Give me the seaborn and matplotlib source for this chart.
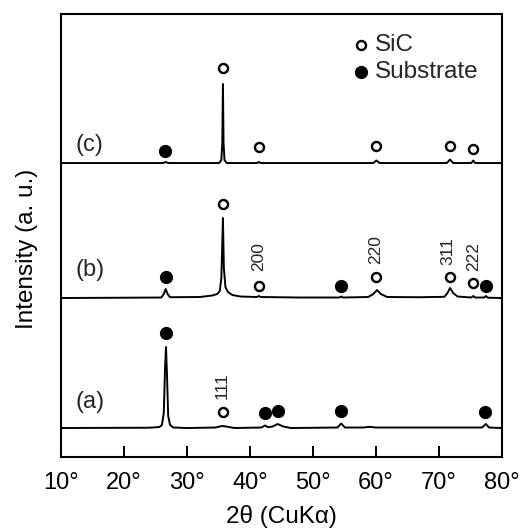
import numpy as np
import pandas as pd
import matplotlib
matplotlib.use("Agg")
import matplotlib.pyplot as plt
import seaborn as sns

# XRD traces: 2theta (deg) and height above each trace's baseline
# (vertical units = screen pixels of the original figure)
two_theta_c = [10, 26.2, 26.6, 27.0, 35.1, 35.45, 35.6, 35.7, 35.8, 35.95, 36.3,
               41.1, 41.4, 41.7, 59.6, 60.1, 60.6, 71.3, 71.8, 72.3, 75.2, 75.5, 75.8, 80]
height_c = [0, 0, 1, 0, 0, 3, 20, 79, 20, 3, 0,
            0, 1, 0, 0, 2.5, 0, 0, 3.5, 0, 0, 2.5, 0, 0]

two_theta_b = [10, 20, 25.9, 26.3, 26.6, 26.9, 27.3, 32, 34.0, 34.8, 35.2, 35.45, 35.6,
               35.7, 35.85, 36.1, 36.5, 37.2, 38.5, 41.1, 41.4, 41.7, 48, 54.2, 54.5,
               54.8, 58.8, 59.6, 60.2, 60.8, 61.8, 67, 70.9, 71.4, 71.8, 72.3, 73.0,
               75.2, 75.5, 75.8, 77.2, 77.5, 77.8, 80]
height_b = [0, 0.3, 0.5, 4, 9, 4, 0.8, 1, 2.5, 4, 7, 20, 55,
            80, 30, 11, 6, 3, 1.5, 1, 2, 1, 0.5, 0.5, 1.5,
            0.5, 1, 4, 8, 4, 1, 0.8, 1.2, 5, 10, 5, 1.5,
            0.5, 2, 0.5, 0.5, 2, 0.3, 0]

two_theta_a = [10, 24, 25.6, 26.0, 26.3, 26.5, 26.65, 26.8, 27.0, 27.3, 27.8, 30, 34.5,
               35.5, 36.2, 37.5, 41.8, 42.4, 42.9, 43.6, 44.4, 45.3, 46.5, 53.9, 54.5,
               55.1, 58, 59, 60, 76.9, 77.5, 78.0, 80]
height_a = [0, 0.3, 1, 3, 15, 60, 81, 55, 12, 3, 0.5, 0, 0.5,
            2, 1.5, 0, 0.5, 2.5, 0.8, 1.5, 4, 1.5, 0, 0.5, 4.5,
            0.5, 0.5, 1.2, 0.5, 0.5, 4, 0.5, 0]

baselines = {"a": 29, "b": 159, "c": 294}

# phase markers: (2theta, y)
sic_c = ([35.7, 41.4, 60.0, 71.8, 75.5], [389, 310, 311, 311, 308])
sub_c = ([26.5], [306])
sic_b = ([35.7, 41.4, 60.0, 71.8, 75.5], [253, 171, 180, 180, 174])
sub_b = ([26.6, 54.5, 77.5], [180, 171, 171])
sic_a = ([35.7], [45])
sub_a = ([26.6, 42.4, 44.4, 54.5, 77.4], [124, 44, 46, 46, 45])

hkl_labels = ["111", "200", "220", "311", "222"]
hkl_x = [35.5, 41.3, 60.0, 71.5, 75.5]
hkl_y = [71, 200, 207, 206, 200]

sns.set_theme(style="ticks")
plt.rcParams["font.family"] = ["Liberation Sans", "DejaVu Sans"]

fig = plt.figure(figsize=(5.28, 5.30), dpi=100)
ax = fig.add_axes([0.116, 0.1377, 0.834, 0.8368])

traces = [("a", two_theta_a, height_a), ("b", two_theta_b, height_b), ("c", two_theta_c, height_c)]
for name, xs, hs in traces:
    df = pd.DataFrame({"x": xs, "y": np.array(hs) + baselines[name]})
    sns.lineplot(data=df, x="x", y="y", ax=ax, color="black", lw=1.4,
                 sort=False, estimator=None)

for xs, ys in [sic_a, sic_b, sic_c]:
    ax.plot(xs, ys, "o", ms=6.5, mfc="white", mec="black", mew=1.7, ls="none")
for xs, ys in [sub_a, sub_b, sub_c]:
    ax.plot(xs, ys, "o", ms=8.5, mfc="black", mec="black", ls="none")

for lab, x, y in zip(hkl_labels, hkl_x, hkl_y):
    ax.text(x, y, lab, rotation=90, ha="center", va="center", fontsize=12.5)

for lab, y in [("(a)", 55), ("(b)", 187), ("(c)", 312)]:
    ax.text(12.2, y, lab, ha="left", va="center", fontsize=17)

# legend drawn inside the axes
ax.plot([57.6], [412], "o", ms=6.5, mfc="white", mec="black", mew=1.7)
ax.plot([57.6], [385], "o", ms=8.5, mfc="black", mec="black")
ax.text(59.9, 412, "SiC", ha="left", va="center", fontsize=17.5)
ax.text(59.9, 385, "Substrate", ha="left", va="center", fontsize=17.5)

ax.set_xlim(10, 80)
ax.set_ylim(0, 443.5)
ax.set_xticks(range(10, 81, 10))
ax.set_xticklabels([f"{t}°" for t in range(10, 81, 10)], fontsize=17)
ax.set_yticks([])
ax.tick_params(axis="x", direction="in", length=8, width=1.4, pad=11, colors="black")
for s in ax.spines.values():
    s.set_linewidth(1.5)
    s.set_color("black")

ax.set_xlabel("2θ (CuKα)", fontsize=17.5, color="black")
ax.set_ylabel("Intensity (a. u.)", fontsize=17.5, color="black")
ax.xaxis.set_label_coords(0.5, -0.108)
ax.yaxis.set_label_coords(-0.052, 0.47)

fig.savefig("out.png", dpi=100)
